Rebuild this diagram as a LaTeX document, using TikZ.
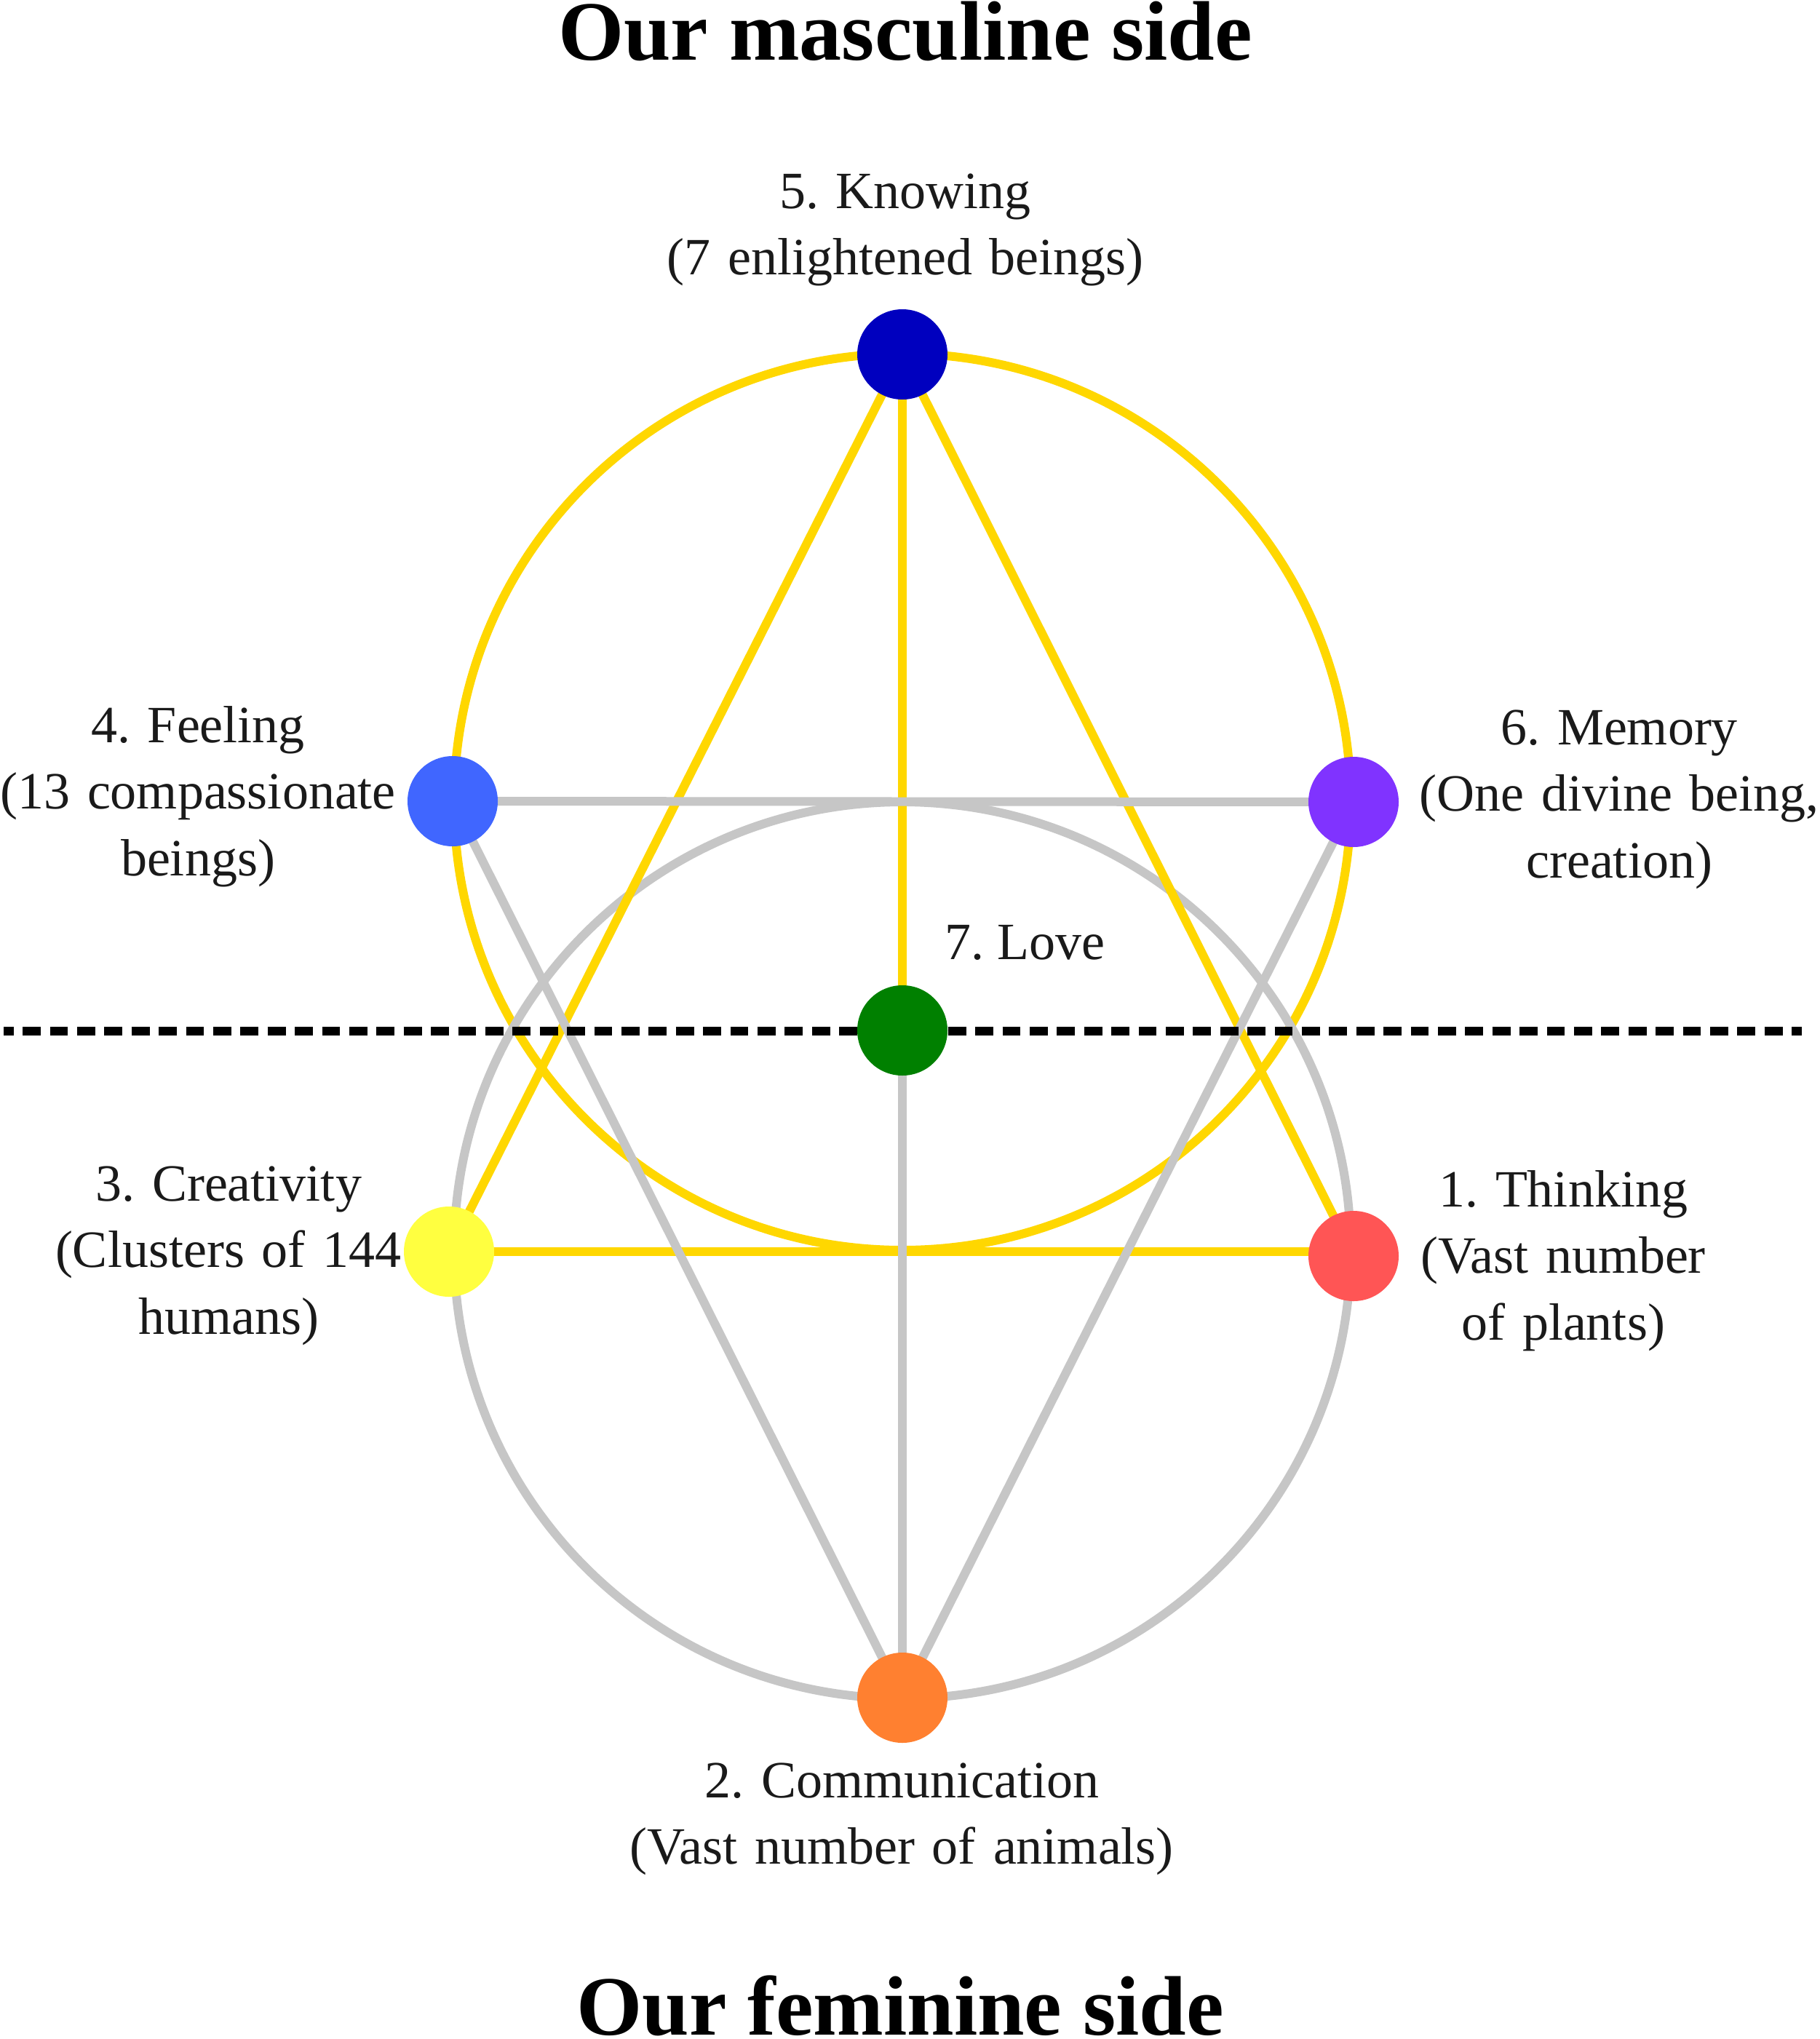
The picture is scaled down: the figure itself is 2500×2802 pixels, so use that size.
\documentclass[tikz,border=0pt]{standalone}
\usepackage{fontspec}
\setmainfont{Liberation Serif}
\definecolor{goldc}{RGB}{255,215,0}
\definecolor{grayc}{RGB}{198,198,198}
\definecolor{txt}{RGB}{26,26,26}
\definecolor{cKnow}{RGB}{0,0,191}
\definecolor{cFeel}{RGB}{64,102,255}
\definecolor{cMem}{RGB}{128,51,255}
\definecolor{cLove}{RGB}{0,128,0}
\definecolor{cCrea}{RGB}{255,255,64}
\definecolor{cThink}{RGB}{255,85,85}
\definecolor{cComm}{RGB}{255,128,48}
\begin{document}
\frenchspacing
\begin{tikzpicture}[x=1pt,y=-1pt,
  dot/.style={circle,inner sep=0pt,minimum size=124pt,draw=none},
  yline/.style={draw=goldc,line width=12pt},
  gline/.style={draw=grayc,line width=12pt},
  lbl/.style={text=txt,font=\frenchspacing\fontsize{72}{91.5}\selectfont,inner sep=0pt,align=center,text width=900pt,anchor=base},
  ttl/.style={text=black,font=\bfseries\fontsize{116}{139}\selectfont,inner sep=0pt,anchor=base}]
\path[use as bounding box,fill=white] (0,0) rectangle (2500,2802);

% geometry
\coordinate (ycen) at (1240,1102);
\coordinate (gcen) at (1240,1718);
\coordinate (dl) at (5,1417);
\coordinate (dr) at (2476,1417);

% nodes
\node[dot] (know) at (1240,487) {};
\node[dot] (feel) at (622,1101) {};
\node[dot] (mem) at (1860,1102) {};
\node[dot] (love) at (1240,1416) {};
\node[dot] (crea) at (617,1720) {};
\node[dot] (think) at (1860,1726) {};
\node[dot] (comm) at (1240,2333) {};

% circles
\draw[yline] (ycen) circle[radius=616pt];
\draw[gline] (gcen) circle[radius=616pt];

% yellow lines
\draw[yline] (know.center) -- (crea.center);
\draw[yline] (know.center) -- (think.center);
\draw[yline] (crea.center) -- (crea.center -| think.center);
\draw[yline] (know.center) -- (love.center);

% gray lines
\draw[gline] (feel.center) -- (mem.center);
\draw[gline] (feel.center) -- (comm.center);
\draw[gline] (mem.center) -- (comm.center);
\draw[gline] (love.center) -- (comm.center);

% dashed divider
\draw[black,line width=12pt,dash pattern=on 24.9pt off 12.5pt,dash phase=11.3pt] (dl) -- (dr);

% dots on top
\fill[cKnow] (know) circle[radius=62pt];
\fill[cFeel] (feel) circle[radius=62pt];
\fill[cMem] (mem) circle[radius=62pt];
\fill[cLove] (love) circle[radius=62pt];
\fill[cCrea] (crea) circle[radius=62pt];
\fill[cThink] (think) circle[radius=62pt];
\fill[cComm] (comm) circle[radius=62pt];

% titles
\node[ttl] (ttop) at (1244,83) {Our masculine side};
\node[ttl] (tbot) at (1237,2796) {Our feminine side};

% labels
\node[lbl] (lknow) at (1244,286) {5. Knowing\\(7 enlightened beings)};
\node[lbl] (lfeel) at (272,1020) {4. Feeling\\(13 compassionate\\beings)};
\node[lbl] (lmem) at (2225,1023) {6. Memory\\(One divine being,\\creation)};
\node[text=txt,font=\frenchspacing\fontsize{72}{91.5}\selectfont,inner sep=0pt,anchor=base west] (llove) at (1298,1318) {7. Love};
\node[lbl] (lcrea) at (314,1650) {3. Creativity\\(Clusters of 144\\humans)};
\node[lbl] (lthink) at (2148,1658) {1. Thinking\\(Vast number\\of plants)};
\node[lbl] (lcomm) at (1239,2470) {2. Communication\\(Vast number of animals)};
\end{tikzpicture}
\end{document}
